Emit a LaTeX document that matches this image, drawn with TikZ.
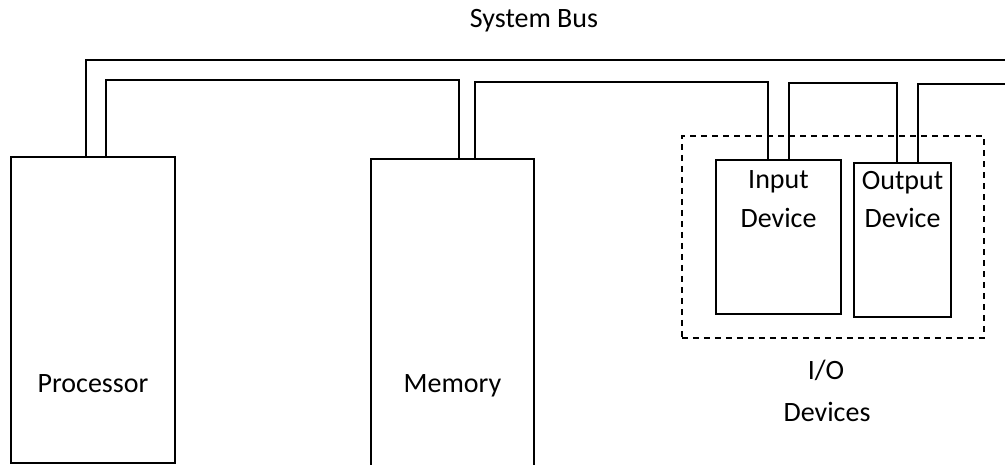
\documentclass[tikz,border=0pt]{standalone}
\usepackage{fontspec}
\setmainfont{Carlito}
\begin{document}
\begin{tikzpicture}[x=1pt,y=-1pt,
  box/.style={draw=black,line width=1.8pt,inner sep=0pt,outer sep=0pt,anchor=north west},
  bus/.style={draw=black,line width=1.8pt},
  lbl/.style={inner sep=0pt,anchor=base,font=\fontsize{28}{32}\selectfont}]
\clip (0,0) rectangle (1005,465);
\useasboundingbox (0,0) rectangle (1005,465);
% boxes
\node[box,minimum width=164pt,minimum height=306pt] (proc) at (11,157) {};
\node[box,minimum width=163pt,minimum height=320pt] (mem) at (371,159) {};
\node[box,minimum width=125pt,minimum height=154pt] (in) at (716,160) {};
\node[box,minimum width=97pt,minimum height=154pt] (out) at (854,163) {};
\node[draw=black,line width=1.8pt,dash pattern=on 6pt off 5pt,inner sep=0pt,anchor=north west,
  minimum width=302pt,minimum height=202pt] (io) at (681,135) {};
% bus ends
\coordinate (busR1) at (1005,60);
\coordinate (busR2) at (1005,84);
% bus lines
\draw[bus] ([xshift=75pt]proc.north west) |- (busR1);
\draw[bus] ([xshift=95pt]proc.north west) -- ++(0,-77) -| ([xshift=88pt]mem.north west);
\draw[bus] ([xshift=104pt]mem.north west) -- ++(0,-77) -| ([xshift=52pt]in.north west);
\draw[bus] ([xshift=73pt]in.north west) -- ++(0,-77) -| ([xshift=43pt]out.north west);
\draw[bus] ([xshift=64pt]out.north west) |- (busR2);
% labels
\node[lbl] (tbus) at (534,28) {System Bus};
\node[lbl] (tproc) at (93,392) {Processor};
\node[lbl] (tmem) at (452.5,392) {Memory};
\node[lbl] (tin1) at (778.5,189) {Input};
\node[lbl] (tin2) at (778.5,228) {Device};
\node[lbl] (tout1) at (902.5,190) {Output};
\node[lbl] (tout2) at (902.5,228) {Device};
\node[lbl] (tio1) at (826,379) {I/O};
\node[lbl] (tio2) at (827,421) {Devices};
\end{tikzpicture}
\end{document}
